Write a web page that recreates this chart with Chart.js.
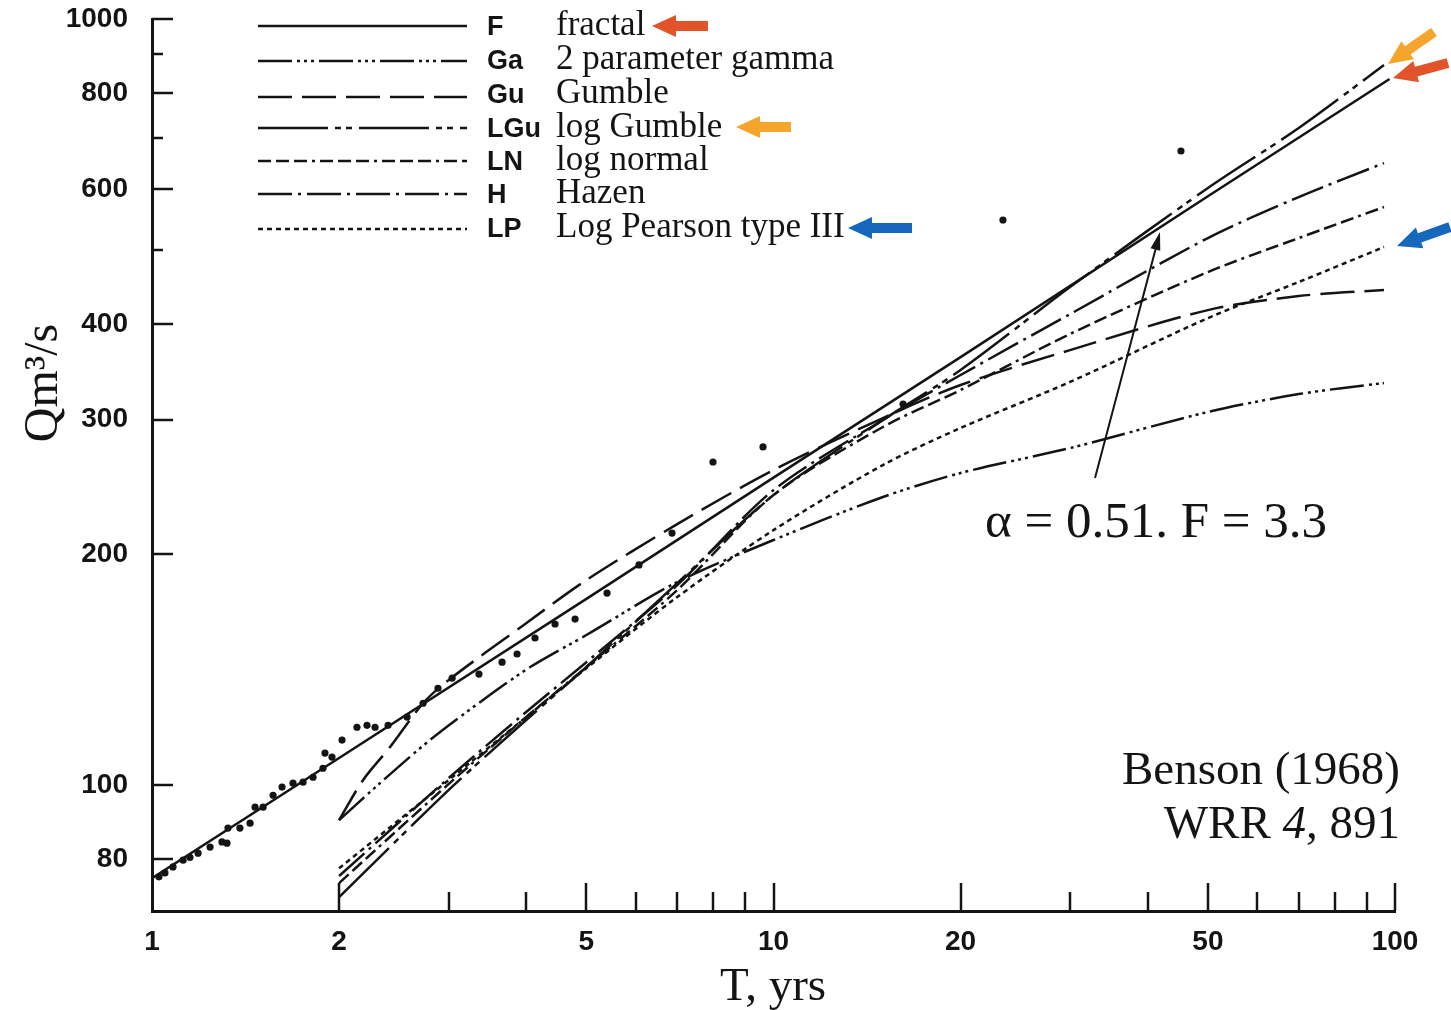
<!DOCTYPE html>
<html><head><meta charset="utf-8">
<script src="https://cdn.jsdelivr.net/npm/chart.js@4.4.1/dist/chart.umd.min.js"></script>
<style>html,body{margin:0;padding:0;background:#fff;overflow:hidden}#wrap{width:1451px;height:1010px}</style>
</head><body><div id="wrap"><canvas id="c" width="1451" height="1010"></canvas></div>
<script>
// ---------- data ----------
const legendAbbr = ['F', 'Ga', 'Gu', 'LGu', 'LN', 'H', 'LP'];
const legendNames = ['fractal', '2 parameter gamma', 'Gumble', 'log Gumble', 'log normal', 'Hazen', 'Log Pearson type III'];

const T_F = [1, 2, 5, 10, 20, 50, 98];
const Q_F = [75.6, 108.5, 175, 252, 362, 587, 835];

const T_Ga = [2, 2.327, 2.8, 3.37, 4.06, 5, 7, 10, 15, 20, 30, 50, 70, 96];
const Q_Ga = [90.0, 100.6, 114.5, 128.3, 142.6, 157.0, 184.1, 208.9, 237.7, 255.5, 275.4, 306.9, 323.9, 334.9];

const T_Gu = [2, 2.185, 2.415, 2.73, 3, 4, 5, 7, 10, 15, 20, 30, 50, 70, 96];
const Q_Gu = [90.0, 101.5, 112.1, 127.9, 137.1, 162.7, 185.2, 219.1, 257.8, 301.4, 332.9, 369.7, 416.9, 434.9, 442.8];

const T_STD = [2, 3, 4, 5, 7, 10, 15, 20, 30, 50, 70, 96];
const Q_LGu = [71.4, 98.5, 121.6, 142.6, 183.5, 239.1, 299.6, 348.2, 446.8, 601.7, 720.6, 870.9];
const Q_LN = [74.5, 100.3, 122.7, 142.6, 179.7, 239.1, 293.4, 327.9, 388.0, 467.4, 517.7, 568.3];
const Q_H = [76.1, 102.1, 124.6, 144.7, 182.4, 242.7, 299.6, 343.0, 411.9, 517.7, 585.6, 648.6];
const Q_LP = [77.9, 101.5, 122.7, 142.1, 176.0, 215.2, 261.7, 292.5, 335.9, 407.0, 453.6, 504.0];

const obsT = [1.026, 1.049, 1.081, 1.122, 1.151, 1.186, 1.240, 1.296, 1.320, 1.325, 1.385, 1.438, 1.465, 1.509, 1.566, 1.619, 1.686, 1.750, 1.816, 1.884, 1.898, 1.948, 2.022, 2.137, 2.218, 2.285, 2.398, 2.573, 2.730, 2.885, 3.040, 3.358, 3.658, 3.867, 4.133, 4.451, 4.794, 5.397, 6.075, 6.866, 7.992, 9.619, 16.16, 23.40, 45.25];
const obsQ = [75.9, 76.8, 78.2, 79.8, 80.5, 81.5, 83.0, 84.3, 84.0, 87.9, 87.9, 89.2, 93.6, 93.6, 97.0, 99.4, 100.6, 100.9, 102.4, 105.2, 110.1, 108.8, 114.5, 119.0, 119.7, 119.0, 119.7, 122.7, 127.9, 133.8, 137.9, 139.6, 144.7, 148.3, 155.6, 162.3, 164.7, 178.1, 193.8, 213.3, 264.1, 276.3, 314.4, 546.6, 672.5];

const xTickValues = [1, 2, 3, 4, 5, 6, 7, 8, 9, 10, 20, 30, 40, 50, 60, 70, 80, 90, 100];
const xTickLabels = [1, 2, 5, 10, 20, 50, 100];
const yTickValues = [80, 100, 200, 300, 400, 500, 600, 700, 800, 900, 1000];
const yTickLabels = [80, 100, 200, 300, 400, 600, 800, 1000];

// ---------- build ----------
const pts = (xs, ys) => xs.map((x, i) => ({x: x, y: ys[i]}));
const seriesT = [T_F, T_Ga, T_Gu, T_STD, T_STD, T_STD, T_STD];
const seriesQ = [Q_F, Q_Ga, Q_Gu, Q_LGu, Q_LN, Q_H, Q_LP];
const dashes = [[], [34, 5, 3, 4, 3, 4, 3, 5], [34, 10], [70, 7, 6, 5, 6, 7], [13, 5, 13, 5, 13, 5, 3, 5], [34, 6, 3, 6], [5, 4]];

const INK = '#141414';
const SERIF = '"Liberation Serif", "DejaVu Serif", serif';
const SANS = '"Liberation Sans", Arial, sans-serif';

const datasets = legendAbbr.map((a, i) => ({
  label: a,
  data: pts(seriesT[i], seriesQ[i]),
  showLine: true,
  borderColor: INK,
  borderWidth: 2.5,
  borderDash: dashes[i],
  pointRadius: 0,
  tension: i === 0 ? 0 : 0.3,
  fill: false
}));
datasets.push({
  label: 'observed',
  data: pts(obsT, obsQ),
  showLine: false,
  pointRadius: 3.6,
  pointBackgroundColor: INK,
  pointBorderWidth: 0
});

function arrow(ctx, tx, ty, sx, sy, color) {
  const ang = Math.atan2(sy - ty, sx - tx);
  const len = Math.hypot(sx - tx, sy - ty);
  ctx.save();
  ctx.translate(tx, ty);
  ctx.rotate(ang);
  ctx.fillStyle = color;
  ctx.beginPath();
  ctx.moveTo(0, 0);
  ctx.lineTo(24, -11);
  ctx.lineTo(24, -5);
  ctx.lineTo(len, -5);
  ctx.lineTo(len, 5);
  ctx.lineTo(24, 5);
  ctx.lineTo(24, 11);
  ctx.closePath();
  ctx.fill();
  ctx.restore();
}

const overlay = {
  id: 'overlay',
  afterDraw(chart) {
    const ctx = chart.ctx;
    const xs = chart.scales.x, ys = chart.scales.y;
    ctx.save();
    ctx.strokeStyle = INK;
    ctx.fillStyle = INK;
    // inward tick marks
    ctx.lineWidth = 2.5;
    ctx.setLineDash([]);
    xs.ticks.forEach(t => {
      if (t.value <= xs.min) return;
      const px = Math.round(xs.getPixelForValue(t.value));
      const len = xTickLabels.includes(t.value) ? 28 : 19;
      ctx.beginPath(); ctx.moveTo(px, xs.top); ctx.lineTo(px, xs.top - len); ctx.stroke();
    });
    ys.ticks.forEach(t => {
      const py = Math.round(ys.getPixelForValue(t.value));
      const len = yTickLabels.includes(t.value) ? 21 : 11;
      ctx.beginPath(); ctx.moveTo(ys.right, py); ctx.lineTo(ys.right + len, py); ctx.stroke();
    });
    // legend
    const rowLine = [26, 61, 97, 128, 161, 194, 229];
    const rowBase = [35, 69, 103, 137, 170, 203, 237];
    legendAbbr.forEach((a, i) => {
      ctx.lineWidth = 2.5;
      ctx.setLineDash(dashes[i]);
      ctx.beginPath(); ctx.moveTo(258, rowLine[i]); ctx.lineTo(467, rowLine[i]); ctx.stroke();
      ctx.setLineDash([]);
      ctx.textBaseline = 'alphabetic';
      ctx.textAlign = 'left';
      ctx.font = 'bold 27px ' + SANS;
      ctx.fillText(a, 487, rowBase[i]);
      ctx.font = '35px ' + SERIF;
      ctx.fillText(legendNames[i], 556, rowBase[i]);
    });
    // coloured arrows
    const RED = '#e1542a', ORANGE = '#f5a52c', BLUE = '#1668bd';
    arrow(ctx, 652, 26, 708, 26, RED);
    arrow(ctx, 736, 127, 791, 127, ORANGE);
    arrow(ctx, 848, 228, 912, 228, BLUE);
    arrow(ctx, 1388, 64, 1434, 32, ORANGE);
    arrow(ctx, 1393, 78, 1448, 63, RED);
    arrow(ctx, 1397, 246, 1450, 227, BLUE);
    // pointer to fractal line
    ctx.lineWidth = 2;
    ctx.beginPath(); ctx.moveTo(1095, 478); ctx.lineTo(1158, 240); ctx.stroke();
    ctx.save();
    ctx.translate(1160, 232);
    ctx.rotate(Math.atan2(478 - 232, 1095 - 1160));
    ctx.beginPath(); ctx.moveTo(0, 0); ctx.lineTo(18, -5); ctx.lineTo(18, 5); ctx.closePath(); ctx.fill();
    ctx.restore();
    // annotation texts
    ctx.textBaseline = 'alphabetic';
    ctx.textAlign = 'left';
    ctx.font = '51px ' + SERIF;
    ctx.fillText('\u03B1 = 0.51. F = 3.3', 985, 537);
    ctx.textAlign = 'right';
    ctx.font = '47px ' + SERIF;
    ctx.fillText('Benson (1968)', 1400, 784);
    const tail = ', 891';
    const wTail = ctx.measureText(tail).width;
    ctx.fillText(tail, 1400, 838);
    ctx.font = 'italic 47px ' + SERIF;
    const w4 = ctx.measureText('4').width;
    ctx.fillText('4', 1400 - wTail, 838);
    ctx.font = '47px ' + SERIF;
    ctx.fillText('WRR ', 1400 - wTail - w4, 838);
    // axis titles
    ctx.textAlign = 'center';
    ctx.font = '47px ' + SERIF;
    ctx.fillText('T, yrs', 773, 1000);
    ctx.save();
    ctx.translate(57, 383);
    ctx.rotate(-Math.PI / 2);
    ctx.font = '48px ' + SERIF;
    ctx.fillText('Qm\u00B3/s', 0, 0);
    ctx.restore();
    ctx.restore();
  }
};

new Chart(document.getElementById('c'), {
  type: 'scatter',
  data: {datasets: datasets},
  options: {
    responsive: false,
    animation: false,
    devicePixelRatio: 1,
    layout: {padding: {top: 19, left: 0, right: 56, bottom: 0}},
    plugins: {legend: {display: false}, tooltip: {enabled: false}},
    scales: {
      x: {
        type: 'logarithmic',
        min: 1, max: 100,
        afterBuildTicks: s => { s.ticks = xTickValues.map(v => ({value: v})); },
        afterFit: s => { s.height = 99; s.paddingLeft = 0; s.paddingRight = 0; s.paddingTop = 0; s.paddingBottom = 0; },
        grid: {display: false, drawTicks: false},
        border: {display: true, color: INK, width: 3},
        ticks: {
          autoSkip: false, maxRotation: 0, padding: 14, color: INK,
          font: {family: SANS, size: 28, weight: 'bold'},
          callback: v => xTickLabels.includes(v) ? String(v) : ''
        }
      },
      y: {
        type: 'logarithmic',
        min: 68.5, max: 1000,
        afterBuildTicks: s => { s.ticks = yTickValues.map(v => ({value: v})); },
        afterFit: s => { s.width = 152; s.paddingTop = 0; s.paddingBottom = 0; s.paddingLeft = 0; s.paddingRight = 0; },
        grid: {display: false, drawTicks: false},
        border: {display: true, color: INK, width: 3},
        ticks: {
          autoSkip: false, padding: 24, color: INK,
          font: {family: SANS, size: 28, weight: 'bold'},
          callback: v => yTickLabels.includes(v) ? String(v) : ''
        }
      }
    }
  },
  plugins: [overlay]
});
</script></body></html>
